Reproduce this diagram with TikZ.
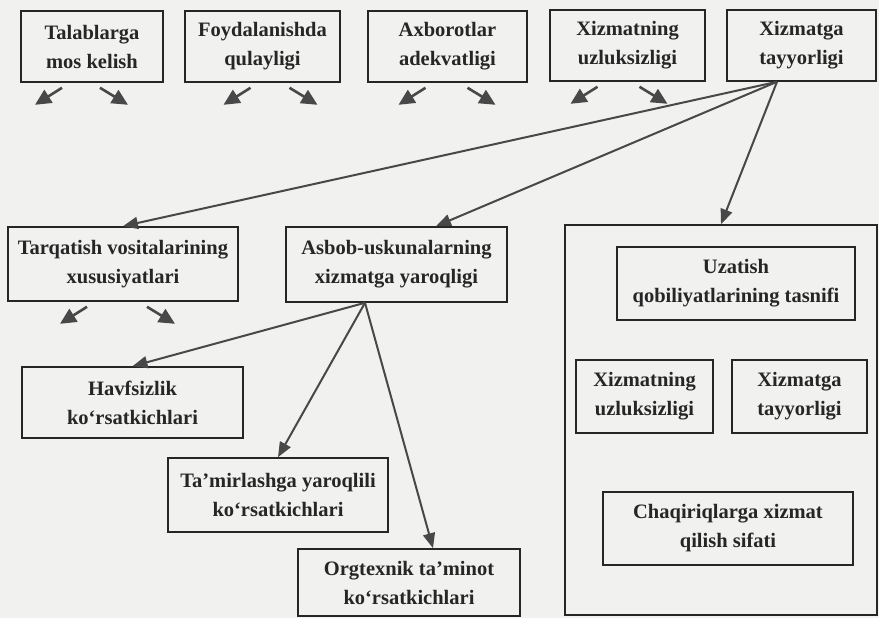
\documentclass[tikz,border=0pt]{standalone}
\usepackage{fontspec}
\setmainfont{Liberation Serif}
\usetikzlibrary{arrows.meta}
\definecolor{paper}{RGB}{241,241,239}
\definecolor{ink}{RGB}{38,38,38}
\definecolor{pen}{RGB}{72,72,72}
\tikzset{
  box/.style={rectangle, draw=ink, line width=1.6pt, text=ink, align=center, inner sep=0,
    font=\bfseries\fontsize{20.5}{29}\selectfont},
  link/.style={draw=pen, line width=2pt, -{Triangle[length=15pt, width=12pt]}},
  stub/.style={draw=pen, line width=2.6pt, -{Triangle[length=16pt, width=15pt]}}
}

\begin{document}
\begin{tikzpicture}[x=1pt, y=-1pt]
      \fill[paper] (0,0) rectangle (879,618);
      \useasboundingbox (0,0) rectangle (879,618);

      \node[box, minimum width=142pt, minimum height=71pt](tl) at (92, 46.5){Talablarga\\mos kelish};
      \node[box, minimum width=155pt, minimum height=71pt](fq) at (262.5, 46.5){Foydalanishda\\qulayligi};
      \node[box, minimum width=159pt, minimum height=71pt](aa) at (447.5, 46.5){Axborotlar\\adekvatligi};
      \node[box, minimum width=155pt, minimum height=71pt](xu) at (627.5, 45.5){Xizmatning\\uzluksizligi};
      \node[box, minimum width=149pt, minimum height=71pt](tv) at (801.5, 45.5){Xizmatga\\tayyorligi};

      \node[box, minimum width=230pt, minimum height=74pt](tq) at (123, 264){Tarqatish vositalarining\\xususiyatlari};
      \node[box, minimum width=221pt, minimum height=75pt](ab) at (396.5, 264.5){Asbob-uskunalarning\\xizmatga yaroqligi};
      \node[box, minimum width=312pt, minimum height=390pt](big) at (721, 420){};

      \node[box, minimum width=221pt, minimum height=71pt](hv) at (132.5, 402.5){Havfsizlik\\ko‘rsatkichlari};
      \node[box, minimum width=220pt, minimum height=74pt](tm) at (278, 495){Ta’mirlashga yaroqlili\\ko‘rsatkichlari};
      \node[box, minimum width=222pt, minimum height=67pt](ot) at (409, 582.5){Orgtexnik ta’minot\\ko‘rsatkichlari};

      \node[box, minimum width=238pt, minimum height=73pt](uz) at (736, 283.5){Uzatish\\qobiliyatlarining tasnifi};
      \node[box, minimum width=137pt, minimum height=73pt](xu2) at (644.5, 396.5){Xizmatning\\uzluksizligi};
      \node[box, minimum width=135pt, minimum height=73pt](tv2) at (799.5, 396.5){Xizmatga\\tayyorligi};
      \node[box, minimum width=250pt, minimum height=73pt](ch) at (728, 528.5){Chaqiriqlarga xizmat\\qilish sifati};

      \foreach \b/\l/\r in {tl/-30/8, fq/-12/27, aa/-22/20, xu/-30/12, tq/-36/24}{
        \coordinate (\b-l) at ([shift={(\l-27,22)}]\b.south);
        \coordinate (\b-r) at ([shift={(\r+28,22)}]\b.south);
        \draw[stub]([shift={(\l,5)}]\b.south)--(\b-l);
        \draw[stub]([shift={(\r,5)}]\b.south)--(\b-r);
      }

      \draw[link]([xshift=-24.5pt]tv.south)--(tq.north);
      \draw[link]([xshift=-24.5pt]tv.south)--([xshift=39.5pt]ab.north);
      \draw[link]([xshift=-24.5pt]tv.south)--(big.north);
      \draw[link]([xshift=-31.5pt]ab.south)--(hv.north);
      \draw[link]([xshift=-31.5pt]ab.south)--(tm.north);
      \draw[link]([xshift=-31.5pt]ab.south)--([xshift=24pt]ot.north);
    \end{tikzpicture}
\end{document}
